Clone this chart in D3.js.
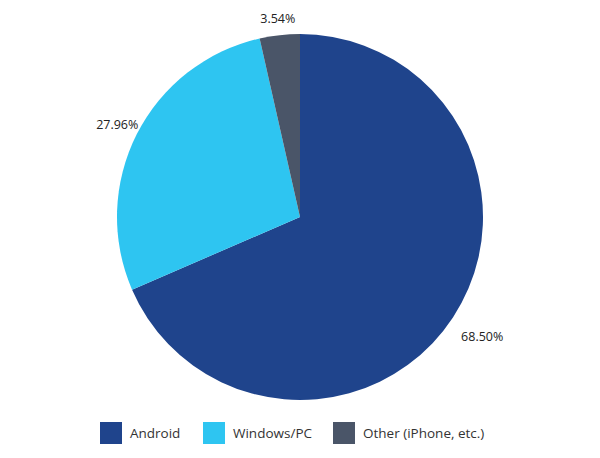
<!DOCTYPE html>
<html><head><meta charset="utf-8">
<script src="https://cdn.jsdelivr.net/npm/d3@7"></script>
<style>body{margin:0;background:#fff;} text{font-family:"Open Sans",sans-serif;}</style>
</head><body><div id="chart"></div>
<script>
const categories = ['Android', 'Windows/PC', 'Other (iPhone, etc.)'];
const values = [68.50, 27.96, 3.54];
const colors = ['#1f448c', '#2ec5f1', '#4a5568'];

const width = 600, height = 458;
const cx = 300, cy = 217, r = 183;

const svg = d3.select('#chart').append('svg')
  .attr('width', width).attr('height', height);

const pie = d3.pie().sort(null).value(d => d);
const arcs = pie(values);
const arc = d3.arc().innerRadius(0).outerRadius(r);
const labelArc = d3.arc().innerRadius(r + 30).outerRadius(r + 30);

const g = svg.append('g').attr('transform', 'translate(' + cx + ',' + cy + ')');
g.selectAll('path').data(arcs).enter().append('path')
  .attr('d', arc)
  .attr('fill', (d, i) => colors[i]);

// label offsets tuned to the reference
const labelR = [218, 205, 200];
g.selectAll('text.lbl').data(arcs).enter().append('text')
  .attr('class', 'lbl')
  .attr('x', (d, i) => Math.sin((d.startAngle + d.endAngle) / 2) * labelR[i])
  .attr('y', (d, i) => -Math.cos((d.startAngle + d.endAngle) / 2) * labelR[i])
  .attr('text-anchor', 'middle').attr('dominant-baseline', 'central')
  .attr('font-size', 12.5).attr('fill', '#222')
  .text(d => d.data.toFixed(2) + '%');

// legend
const legendX = [100, 203, 333];
const lg = svg.selectAll('g.leg').data(categories).enter().append('g')
  .attr('transform', (d, i) => 'translate(' + legendX[i] + ',422)');
lg.append('rect').attr('width', 22).attr('height', 22).attr('fill', (d, i) => colors[i]);
lg.append('text').attr('x', 30).attr('y', 11).attr('dominant-baseline', 'central')
  .attr('font-size', 13.5).attr('fill', '#333').text(d => d);
</script></body></html>
